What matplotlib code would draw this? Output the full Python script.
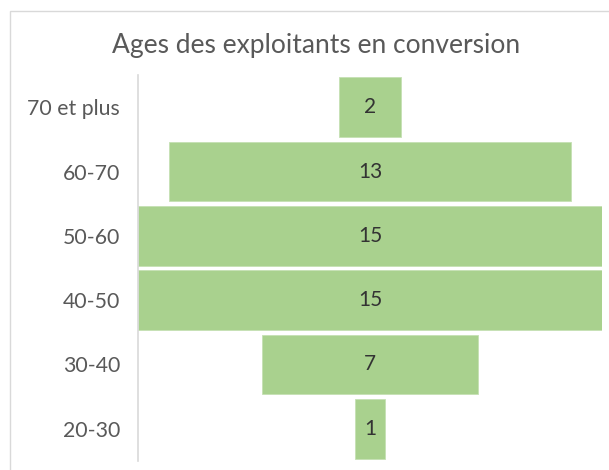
import matplotlib.pyplot as plt
from matplotlib.patches import Rectangle

plt.rcParams['font.family'] = ['Lato', 'DejaVu Sans']

categories = ["20-30", "30-40", "40-50", "50-60", "60-70", "70 et plus"]
counts = [1, 7, 15, 15, 13, 2]

W, H = 609, 470
fig = plt.figure(figsize=(W / 100, H / 100), dpi=100)

# cadre gris du graphique (coupé à droite et en bas)
fig.patches.append(Rectangle((10 / W, -0.1), 1.2, 1.1 - 11 / H, transform=fig.transFigure,
                             fill=False, edgecolor='#D9D9D9', linewidth=1))

ax = fig.add_axes([138 / W, (H - 461) / H, (602 - 138) / W, (461 - 75) / H])

y = list(range(len(categories)))
lefts = [-c / 2 for c in counts]
bars = ax.barh(y, counts, left=lefts, height=0.93, color='#A9D18E', edgecolor='#C5E0B4', linewidth=0.6)

for yi, c in zip(y, counts):
    ax.text(0, yi, str(c), ha='center', va='center', fontsize=15, color='#333333')

ax.set_xlim(-7.5, 7.5)
ax.set_ylim(-0.5, 5.5)
ax.set_yticks(y)
ax.set_yticklabels(categories, fontsize=15.3, color='#595959')
ax.tick_params(axis='y', length=0, pad=13)
ax.set_xticks([])
for s in ['top', 'right', 'bottom']:
    ax.spines[s].set_visible(False)
ax.spines['left'].set_color('#D9D9D9')
ax.spines['left'].set_linewidth(1.2)

fig.text(316 / W, (H - 46) / H, "Ages des exploitants en conversion", ha='center', va='center',
         fontsize=19, color='#595959')

fig.savefig("out.png", dpi=100)
